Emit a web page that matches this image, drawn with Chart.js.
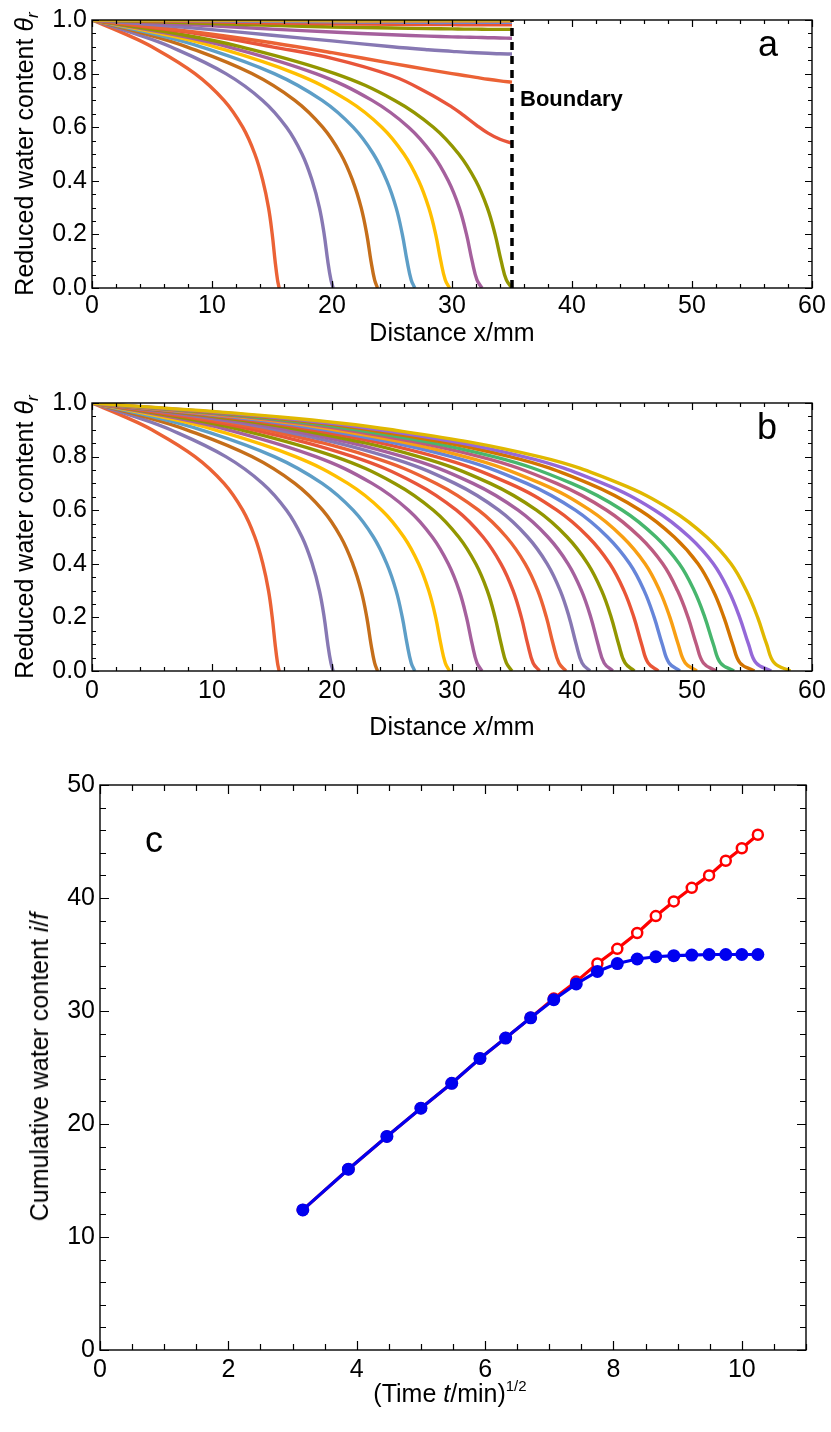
<!DOCTYPE html>
<html>
<head>
<meta charset="utf-8">
<script src="https://cdn.jsdelivr.net/npm/chart.js@4.4.1/dist/chart.umd.min.js"></script>
<style>
  body { margin: 0; background: #fff; }
  #fig { position: relative; width: 831px; height: 1432px; background: #fff; overflow: hidden;
         font-family: "Liberation Sans", Arimo, Helvetica, Arial, sans-serif; color: #000; }
  canvas { position: absolute; left: 0; }
  .ttl { position: absolute; white-space: nowrap; font-size: 25px; line-height: 30px;
         transform: translate(-50%, -50%); }
  .rot { transform: translate(-50%, -50%) rotate(-90deg); }
  .ttl sub { font-size: 17px; vertical-align: -5px; line-height: 0; }
  .ttl sup { font-size: 15px; vertical-align: 11px; line-height: 0; }
  .tag { position: absolute; font-size: 36px; line-height: 36px; }
  #bnd { position: absolute; left: 520px; top: 88px; font-size: 22px; line-height: 22px; font-weight: bold; }
</style>
</head>
<body>
<div id="fig">
  <canvas id="chartA" width="831" height="345" style="top:0px"></canvas>
  <canvas id="chartB" width="831" height="345" style="top:380px"></canvas>
  <canvas id="chartC" width="831" height="672" style="top:760px"></canvas>

  <div class="ttl rot" style="left:24px; top:154px">Reduced water content <i>θ<sub>r</sub></i></div>
  <div class="ttl" style="left:452px; top:332px">Distance x/mm</div>
  <div class="tag" style="left:758px; top:26px">a</div>
  <div id="bnd">Boundary</div>

  <div class="ttl rot" style="left:24px; top:537px">Reduced water content <i>θ<sub>r</sub></i></div>
  <div class="ttl" style="left:452px; top:726px">Distance <i>x</i>/mm</div>
  <div class="tag" style="left:757px; top:409px">b</div>

  <div class="ttl rot" style="left:39px; top:1067px">Cumulative water content <i>i</i>/<i>f</i></div>
  <div class="ttl" style="left:450px; top:1393px">(Time <i>t</i>/min)<sup>1/2</sup></div>
  <div class="tag" style="left:145px; top:822px">c</div>
</div>

<script>
// reduced water content levels, shared by every profile in panel b
const thetaLevels = [1, 0.95, 0.9, 0.8, 0.7, 0.6, 0.5, 0.4, 0.3, 0.2, 0.1, 0.03, 0];

// distance (mm) at which each profile reaches the levels above
const bX00 = [0, 2.65, 4.99, 8.58, 11.00, 12.56, 13.57, 14.24, 14.71, 15.02, 15.26, 15.46, 15.6];
const bX01 = [0, 3.51, 6.55, 11.15, 14.22, 16.21, 17.50, 18.35, 18.95, 19.35, 19.65, 19.91, 20.1];
const bX02 = [0, 4.27, 7.89, 13.32, 16.90, 19.22, 20.73, 21.73, 22.43, 22.90, 23.25, 23.55, 23.8];
const bX03 = [0, 4.96, 9.08, 15.18, 19.18, 21.76, 23.45, 24.57, 25.34, 25.86, 26.26, 26.60, 26.9];
const bX04 = [0, 5.63, 10.23, 16.95, 21.32, 24.15, 25.99, 27.22, 28.06, 28.64, 29.07, 29.44, 29.8];
const bX05 = [0, 6.30, 11.34, 18.65, 23.34, 26.38, 28.36, 29.69, 30.60, 31.21, 31.68, 32.08, 32.5];
const bX06 = [0, 6.95, 12.42, 20.25, 25.23, 28.45, 30.56, 31.98, 32.94, 33.59, 34.10, 34.53, 35.0];
const bX07 = [0, 7.58, 13.45, 21.75, 26.98, 30.37, 32.59, 34.08, 35.09, 35.78, 36.31, 36.76, 37.3];
const bX08 = [0, 8.21, 14.47, 23.22, 28.68, 32.21, 34.53, 36.10, 37.15, 37.87, 38.43, 38.91, 39.5];
const bX09 = [0, 8.82, 15.44, 24.59, 30.24, 33.90, 36.30, 37.93, 39.02, 39.77, 40.35, 40.84, 41.5];
const bX10 = [0, 9.43, 16.40, 25.93, 31.74, 35.51, 37.99, 39.67, 40.79, 41.57, 42.17, 42.68, 43.4];
const bX11 = [0, 10.04, 17.34, 27.22, 33.18, 37.04, 39.59, 41.32, 42.47, 43.27, 43.89, 44.42, 45.2];
const bX12 = [0, 10.71, 18.38, 28.64, 34.77, 38.74, 41.36, 43.15, 44.33, 45.16, 45.80, 46.34, 47.2];
const bX13 = [0, 11.35, 19.37, 29.97, 36.22, 40.28, 42.96, 44.81, 46.01, 46.85, 47.52, 48.09, 49.0];
const bX14 = [0, 11.91, 20.21, 31.06, 37.39, 41.50, 44.22, 46.09, 47.30, 48.16, 48.85, 49.44, 50.4];
const bX15 = [0, 12.54, 21.16, 32.30, 38.71, 42.89, 45.65, 47.56, 48.79, 49.67, 50.36, 50.95, 52.0];
const bX16 = [0, 13.15, 22.07, 33.48, 39.97, 44.20, 47.00, 48.94, 50.18, 51.07, 51.78, 52.38, 53.5];
const bX17 = [0, 13.83, 23.10, 34.81, 41.38, 45.67, 48.52, 50.50, 51.76, 52.66, 53.39, 54.01, 55.2];
const bX18 = [0, 14.45, 24.01, 35.96, 42.58, 46.90, 49.78, 51.78, 53.05, 53.97, 54.71, 55.34, 56.6];
const bX19 = [0, 15.13, 25.03, 37.25, 43.94, 48.31, 51.22, 53.25, 54.53, 55.47, 56.22, 56.86, 58.2];

// panel a: profiles once the wetting front has hit the boundary at 35 mm
const boundaryX = 35;
const xGridA = [0, 5, 10, 15, 20, 25, 28, 30, 31, 32, 33, 34, 35];
const aT07 = [1, 0.972, 0.94, 0.9, 0.857, 0.792, 0.728, 0.675, 0.643, 0.609, 0.578, 0.555, 0.54];
const aT08 = [1, 0.975, 0.947, 0.915, 0.878, 0.838, 0.815, 0.8, 0.793, 0.786, 0.779, 0.773, 0.768];
const aT09 = [1, 0.983, 0.964, 0.943, 0.922, 0.9, 0.889, 0.883, 0.88, 0.878, 0.876, 0.874, 0.873];
const aT10 = [1, 0.99, 0.978, 0.966, 0.955, 0.945, 0.94, 0.937, 0.936, 0.935, 0.934, 0.933, 0.932];
const aT11 = [1, 0.994, 0.987, 0.98, 0.974, 0.97, 0.968, 0.967, 0.966, 0.966, 0.965, 0.965, 0.965];
const aT12 = [1, 0.997, 0.993, 0.989, 0.986, 0.984, 0.983, 0.983, 0.982, 0.982, 0.982, 0.982, 0.982];
const aT13 = [1, 0.999, 0.997, 0.995, 0.993, 0.992, 0.991, 0.991, 0.991, 0.991, 0.991, 0.991, 0.991];
const aT14 = [1, 1, 0.999, 0.998, 0.997, 0.996, 0.996, 0.996, 0.996, 0.996, 0.996, 0.996, 0.996];
const aT15 = [1, 1, 1, 0.999, 0.999, 0.998, 0.998, 0.998, 0.998, 0.998, 0.998, 0.998, 0.998];
const aT16 = [1, 1, 1, 1, 1, 0.999, 0.999, 0.999, 0.999, 0.999, 0.999, 0.999, 0.999];
const aT17 = [1, 1, 1, 1, 1, 1, 1, 1, 1, 1, 1, 1, 1];
const aT18 = [1, 1, 1, 1, 1, 1, 1, 1, 1, 1, 1, 1, 1];
const aT19 = [1, 1, 1, 1, 1, 1, 1, 1, 1, 1, 1, 1, 1];

// panel c: cumulative water content vs sqrt(time)
const sqrtTime = [3.16, 3.87, 4.47, 5.00, 5.48, 5.92, 6.32, 6.71, 7.07, 7.42,
                  7.75, 8.06, 8.37, 8.66, 8.94, 9.22, 9.49, 9.75, 10.00, 10.25];
const noBoundary = [12.4, 16.0, 18.9, 21.4, 23.6, 25.8, 27.6, 29.4, 31.1, 32.6,
                    34.2, 35.5, 36.9, 38.4, 39.7, 40.9, 42.0, 43.3, 44.4, 45.6];
const withBoundary = [12.4, 16.0, 18.9, 21.4, 23.6, 25.8, 27.6, 29.4, 31.0, 32.4,
                      33.5, 34.2, 34.6, 34.8, 34.9, 34.95, 35.0, 35.0, 35.0, 35.0];

// tick labels
const distTicks = [0, 10, 20, 30, 40, 50, 60];
const thetaTicks = [0, 0.2, 0.4, 0.6, 0.8, 1.0];
const timeTicks = [0, 2, 4, 6, 8, 10];
const cumTicks = [0, 10, 20, 30, 40, 50];

const profilesB = [bX00, bX01, bX02, bX03, bX04, bX05, bX06, bX07, bX08, bX09,
                   bX10, bX11, bX12, bX13, bX14, bX15, bX16, bX17, bX18, bX19];
const profilesA = [aT07, aT08, aT09, aT10, aT11, aT12, aT13, aT14, aT15, aT16, aT17, aT18, aT19];

const lineColors = ['#EB6235', '#8778B3', '#C56E1A', '#5D9EC7', '#FFBF00', '#A5609D', '#929600',
                    '#E8553A', '#EB6235', '#8778B3', '#A5609D', '#929600', '#E95536', '#6685D9',
                    '#F89F13', '#BC5B80', '#47B66D', '#D37400', '#9468D8', '#E0B800'];

const tickFont = { family: "'Liberation Sans', Arimo, Helvetica, Arial, sans-serif", size: 25 };

// Mathematica-like frame: box plus inward ticks on all four sides
const frameTicks = {
  id: 'frameTicks',
  afterDraw(chart, args, o) {
    const { ctx, chartArea: a, scales: { x, y } } = chart;
    const steps = (lo, hi, st) => { const r = []; for (let v = lo; v <= hi + 1e-9; v += st) r.push(v); return r; };
    ctx.save();
    ctx.strokeStyle = '#000';
    ctx.lineWidth = 1.2;
    ctx.beginPath();
    const xt = (vals, len) => vals.forEach(v => {
      const p = Math.round(x.getPixelForValue(v)) + 0.5;
      ctx.moveTo(p, a.bottom); ctx.lineTo(p, a.bottom - len);
      ctx.moveTo(p, a.top); ctx.lineTo(p, a.top + len);
    });
    const yt = (vals, len) => vals.forEach(v => {
      const p = Math.round(y.getPixelForValue(v)) + 0.5;
      ctx.moveTo(a.left, p); ctx.lineTo(a.left + len, p);
      ctx.moveTo(a.right, p); ctx.lineTo(a.right - len, p);
    });
    xt(steps(x.min, x.max, o.xMinor), o.minorLen);
    xt(steps(x.min, x.max, o.xMajor), o.majorLen);
    yt(steps(y.min, y.max, o.yMinor), o.minorLen);
    yt(steps(y.min, y.max, o.yMajor), o.majorLen);
    ctx.stroke();
    ctx.lineWidth = 1.4;
    ctx.strokeRect(a.left, a.top, a.right - a.left, a.bottom - a.top);
    ctx.restore();
  }
};

function axis(min, max, ticks, fit, fmt, pad) {
  return {
    type: 'linear', min, max,
    grid: { display: false, drawTicks: false },
    border: { display: false },
    afterBuildTicks: s => { s.ticks = ticks.map(v => ({ value: v })); },
    afterFit: fit,
    ticks: { font: tickFont, color: '#000', padding: pad, autoSkip: false, maxRotation: 0, callback: fmt }
  };
}

function makeChart(id, datasets, o) {
  return new Chart(document.getElementById(id), {
    type: 'scatter',
    data: { datasets },
    options: {
      responsive: false, animation: false, devicePixelRatio: 1,
      layout: { padding: o.padding },
      plugins: { legend: { display: false }, tooltip: { enabled: false }, frameTicks: o.frame },
      scales: {
        x: axis(o.xMin, o.xMax, o.xTicks, s => { s.height = o.xHeight; }, o.xFmt, o.xPad),
        y: axis(o.yMin, o.yMax, o.yTicks, s => { s.width = o.yWidth; }, o.yFmt, 5)
      }
    },
    plugins: [frameTicks]
  });
}

function curve(points, i) {
  return {
    data: points, showLine: true, pointRadius: 0, borderWidth: 3.4,
    borderColor: lineColors[i], tension: 0.4, order: 100 - i
  };
}

const fromLevels = xs => xs.map((x, k) => ({ x, y: thetaLevels[k] }));

// panel a
const dsA = [];
for (let i = 0; i < 7; i++) dsA.push(curve(fromLevels(profilesB[i]), i));
profilesA.forEach((th, j) => dsA.push(curve(xGridA.map((x, k) => ({ x, y: th[k] })), j + 7)));
dsA.push({
  data: [{ x: boundaryX, y: 0 }, { x: boundaryX, y: 1 }], showLine: true, pointRadius: 0,
  borderColor: '#000', borderWidth: 3.5, borderDash: [8, 6], order: -1
});

const frameAB = { xMajor: 10, xMinor: 2, yMajor: 0.2, yMinor: 0.05, majorLen: 7, minorLen: 4 };
const fmtTheta = v => v.toFixed(1);
const fmtInt = v => String(v);

makeChart('chartA', dsA, {
  padding: { top: 20, right: 19, left: 0, bottom: 0 },
  xMin: 0, xMax: 60, xTicks: distTicks, xHeight: 57, xFmt: fmtInt, xPad: 3,
  yMin: 0, yMax: 1, yTicks: thetaTicks, yWidth: 92, yFmt: fmtTheta,
  frame: frameAB
});

// panel b
makeChart('chartB', profilesB.map((xs, i) => curve(fromLevels(xs), i)), {
  padding: { top: 23, right: 19, left: 0, bottom: 0 },
  xMin: 0, xMax: 60, xTicks: distTicks, xHeight: 54, xFmt: fmtInt, xPad: 5,
  yMin: 0, yMax: 1, yTicks: thetaTicks, yWidth: 92, yFmt: fmtTheta,
  frame: frameAB
});

// panel c
makeChart('chartC', [
  {
    data: sqrtTime.map((x, k) => ({ x, y: withBoundary[k] })), showLine: true,
    borderColor: '#0000F0', borderWidth: 3.2, pointRadius: 6.5, pointBorderWidth: 0,
    pointBackgroundColor: '#0000F0', order: 0
  },
  {
    data: sqrtTime.map((x, k) => ({ x, y: noBoundary[k] })), showLine: true,
    borderColor: '#FF0000', borderWidth: 3.2, pointRadius: 5, pointBorderWidth: 2.5,
    pointBackgroundColor: '#FFFFFF', pointBorderColor: '#FF0000', order: 1
  }
], {
  padding: { top: 25, right: 25, left: 0, bottom: 0 },
  xMin: 0, xMax: 11, xTicks: timeTicks, xHeight: 82, xFmt: fmtInt, xPad: 5,
  yMin: 0, yMax: 50, yTicks: cumTicks, yWidth: 100, yFmt: fmtInt,
  frame: { xMajor: 2, xMinor: 0.5, yMajor: 10, yMinor: 2, majorLen: 9, minorLen: 6 }
});
</script>
</body>
</html>
